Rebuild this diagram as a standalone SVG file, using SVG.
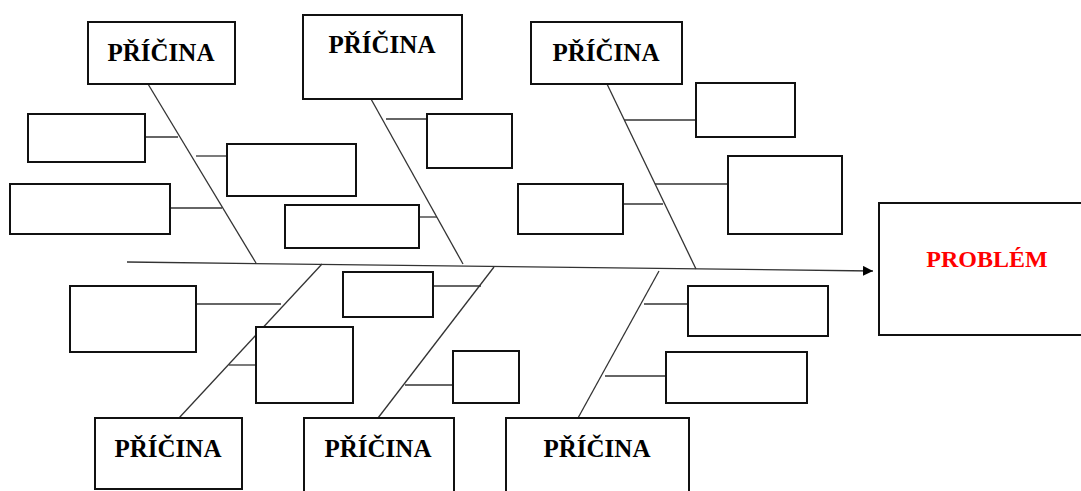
<svg xmlns="http://www.w3.org/2000/svg" width="1081" height="491" viewBox="0 0 1081 491">
<defs>
<style>
.box{fill:#fff;stroke:#111;stroke-width:2}
.ln{stroke:#333;stroke-width:1.3;fill:none}
.lbl{font-family:"Liberation Serif","Times New Roman",serif;font-weight:bold;font-size:25px;fill:#000;text-anchor:middle}
.prob{font-family:"Liberation Serif","Times New Roman",serif;font-weight:bold;font-size:24px;fill:#ff0000;text-anchor:middle}
</style>
<marker id="arr" markerWidth="10" markerHeight="10" refX="10" refY="5" orient="auto" markerUnits="userSpaceOnUse">
<path d="M0,0 L10,5 L0,10 Z" fill="#000"/>
</marker>
</defs>
<rect width="1081" height="491" fill="#fff"/>
<g id="connectors">
<line class="ln" x1="127" y1="262" x2="873" y2="271" marker-end="url(#arr)"/>
<line class="ln" x1="148" y1="84" x2="256" y2="263"/>
<line class="ln" x1="371" y1="99" x2="463" y2="264"/>
<line class="ln" x1="607" y1="84" x2="696" y2="269"/>
<line class="ln" x1="322" y1="264" x2="179" y2="418"/>
<line class="ln" x1="494" y1="267" x2="378" y2="418"/>
<line class="ln" x1="659" y1="271" x2="578" y2="418"/>
<line class="ln" x1="145" y1="137" x2="178" y2="137"/>
<line class="ln" x1="196" y1="156" x2="227" y2="156"/>
<line class="ln" x1="170" y1="208" x2="222" y2="208"/>
<line class="ln" x1="419" y1="217" x2="437" y2="217"/>
<line class="ln" x1="386" y1="119" x2="427" y2="119"/>
<line class="ln" x1="624" y1="120" x2="696" y2="120"/>
<line class="ln" x1="655" y1="184" x2="728" y2="184"/>
<line class="ln" x1="623" y1="204" x2="663" y2="204"/>
<line class="ln" x1="196" y1="304" x2="281" y2="304"/>
<line class="ln" x1="229" y1="365" x2="256" y2="365"/>
<line class="ln" x1="433" y1="286" x2="481" y2="286"/>
<line class="ln" x1="405" y1="385" x2="453" y2="385"/>
<line class="ln" x1="644" y1="304" x2="688" y2="304"/>
<line class="ln" x1="605" y1="376" x2="666" y2="376"/>
</g>
<g id="cause1"><rect class="box" x="88" y="22" width="147" height="62"/><text class="lbl" x="161" y="61">PŘÍČINA</text></g>
<g id="cause2"><rect class="box" x="303" y="15" width="159" height="84"/><text class="lbl" x="382" y="53">PŘÍČINA</text></g>
<g id="cause3"><rect class="box" x="531" y="22" width="151" height="62"/><text class="lbl" x="606" y="61">PŘÍČINA</text></g>
<g id="cause4"><rect class="box" x="95" y="418" width="147" height="71"/><text class="lbl" x="168" y="457">PŘÍČINA</text></g>
<g id="cause5"><rect class="box" x="304" y="418" width="150" height="76"/><text class="lbl" x="378" y="457">PŘÍČINA</text></g>
<g id="cause6"><rect class="box" x="506" y="418" width="183" height="76"/><text class="lbl" x="597" y="457">PŘÍČINA</text></g>
<g id="problem"><rect class="box" x="879" y="203" width="205" height="132"/><text class="prob" x="987" y="267">PROBLÉM</text></g>
<g id="boxA"><rect class="box" x="28" y="114" width="117" height="48"/></g>
<g id="boxB"><rect class="box" x="227" y="144" width="129" height="52"/></g>
<g id="boxC"><rect class="box" x="10" y="184" width="160" height="50"/></g>
<g id="boxD"><rect class="box" x="285" y="205" width="134" height="43"/></g>
<g id="boxE"><rect class="box" x="427" y="114" width="85" height="54"/></g>
<g id="boxF"><rect class="box" x="696" y="83" width="99" height="54"/></g>
<g id="boxG"><rect class="box" x="728" y="156" width="114" height="78"/></g>
<g id="boxH"><rect class="box" x="518" y="184" width="105" height="50"/></g>
<g id="boxI"><rect class="box" x="70" y="286" width="126" height="66"/></g>
<g id="boxJ"><rect class="box" x="256" y="327" width="97" height="76"/></g>
<g id="boxK"><rect class="box" x="343" y="272" width="90" height="45"/></g>
<g id="boxL"><rect class="box" x="453" y="351" width="66" height="52"/></g>
<g id="boxM"><rect class="box" x="688" y="286" width="140" height="50"/></g>
<g id="boxN"><rect class="box" x="666" y="352" width="141" height="51"/></g>
</svg>
